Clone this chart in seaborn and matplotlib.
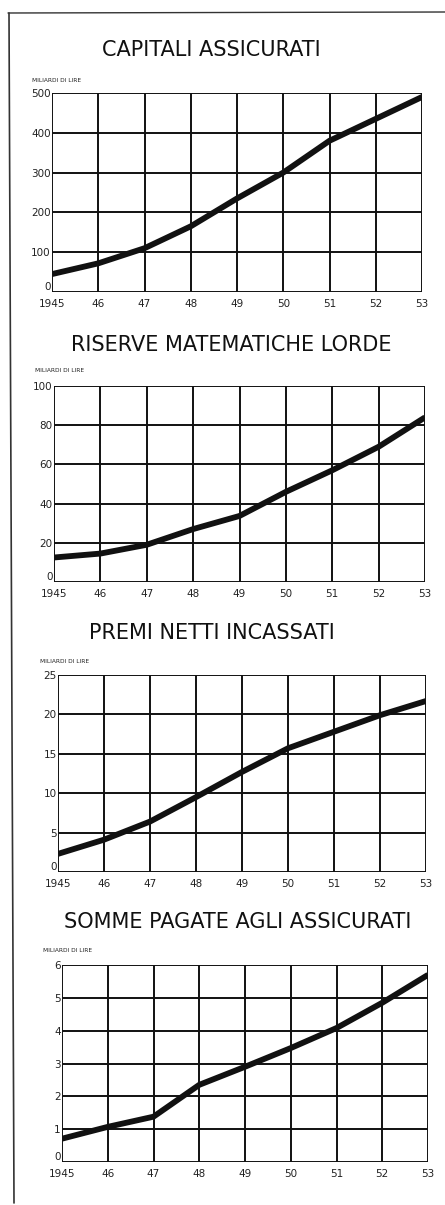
import matplotlib
matplotlib.use("Agg")
import matplotlib.pyplot as plt
import seaborn as sns
import pandas as pd

years = [1945, 1946, 1947, 1948, 1949, 1950, 1951, 1952, 1953]
year_labels = ["1945", "46", "47", "48", "49", "50", "51", "52", "53"]

titles = ["CAPITALI ASSICURATI", "RISERVE MATEMATICHE LORDE",
          "PREMI NETTI INCASSATI", "SOMME PAGATE AGLI ASSICURATI"]
unit_label = "MILIARDI DI LIRE"

capitali = [45, 72, 110, 165, 235, 300, 380, 435, 490]
riserve = [12.5, 14.5, 19, 27, 33.7, 46, 57, 69, 84]
premi = [2.3, 4.1, 6.4, 9.5, 12.7, 15.7, 17.8, 19.9, 21.7]
somme = [0.71, 1.07, 1.38, 2.35, 2.9, 3.47, 4.08, 4.85, 5.7]

yticks_list = [
    [0, 100, 200, 300, 400, 500],
    [0, 20, 40, 60, 80, 100],
    [0, 5, 10, 15, 20, 25],
    [0, 1, 2, 3, 4, 5, 6],
]
series = [capitali, riserve, premi, somme]

sns.set_theme(style="white")
plt.rcParams['font.family'] = ['DejaVu Sans']

W, H = 445, 1205
fig = plt.figure(figsize=(W / 100, H / 100), dpi=100)
fig.patch.set_facecolor("white")

# axes boxes in pixels: left, right, top, bottom
boxes = [(52, 422, 93, 292), (54, 425, 386, 582), (58, 426, 675, 872), (62, 428, 965, 1162)]
title_pos = [(211, 50), (231, 345), (212, 633), (238, 922)]
unit_pos = [(32, 80), (35, 371), (40, 661), (43, 951)]

# border lines
fig.add_artist(plt.Line2D([8 / W, 1], [1 - 13 / H, 1 - 12 / H], color="#333333", lw=1.0))
fig.add_artist(plt.Line2D([9 / W, 14 / W], [1 - 13 / H, 1 - 1203 / H], color="#333333", lw=1.2))

for i in range(4):
    l, r, t, b = boxes[i]
    ax = fig.add_axes([l / W, 1 - b / H, (r - l) / W, (b - t) / H])
    df = pd.DataFrame({"anno": years, "valore": series[i]})
    sns.lineplot(data=df, x="anno", y="valore", ax=ax, color="#111111", lw=4.2,
                 solid_capstyle="butt", zorder=5)
    yt = yticks_list[i]
    ax.set_xlim(years[0], years[-1])
    ax.set_ylim(yt[0], yt[-1])
    ax.set_xticks(years)
    ax.set_xticklabels(year_labels, fontsize=7.5, color="#222222")
    ax.set_yticks(yt)
    ax.set_yticklabels([str(v) for v in yt], fontsize=7.5, color="#222222")
    ax.tick_params(axis="x", length=0, pad=5)
    ax.tick_params(axis="y", length=0, pad=1)
    ylabs = ax.get_yticklabels()
    ylabs[0].set_verticalalignment("bottom")
    for v in years:
        ax.axvline(v, color="#111111", lw=1.4, zorder=2)
    for v in yt:
        ax.axhline(v, color="#111111", lw=1.4, zorder=2)
    for s in ax.spines.values():
        s.set_visible(False)
    ax.set_xlabel("")
    ax.set_ylabel("")
    tx, ty = title_pos[i]
    fig.text(tx / W, 1 - ty / H, titles[i], ha="center", va="center",
             fontsize=15, color="#111111")
    ux, uy = unit_pos[i]
    fig.text(ux / W, 1 - uy / H, unit_label, ha="left", va="center",
             fontsize=4.2, color="#222222")

fig.savefig("out.png", dpi=100, facecolor="white")
